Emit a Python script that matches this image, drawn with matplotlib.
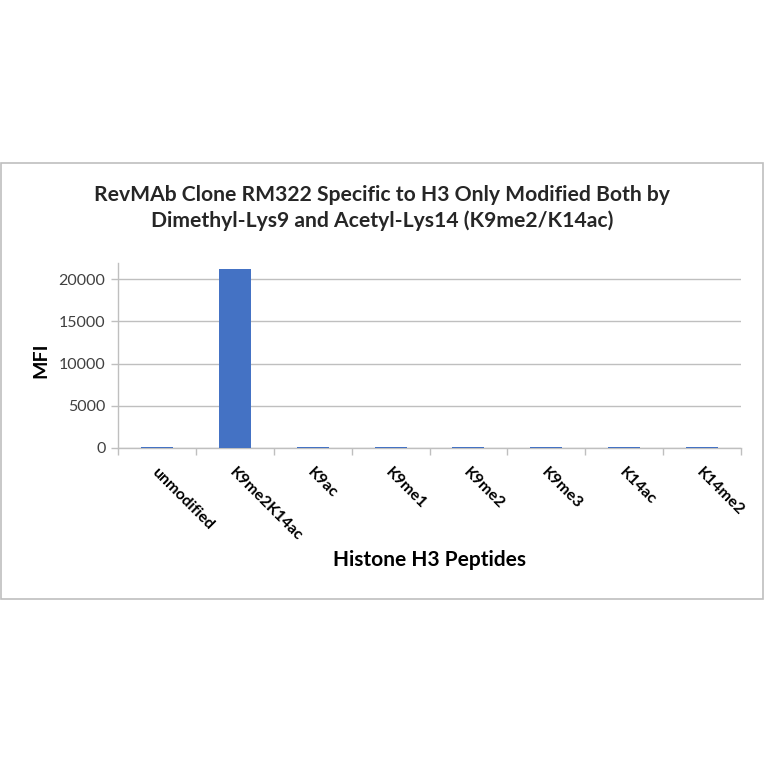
import matplotlib
matplotlib.use('Agg')
import matplotlib.pyplot as plt
from matplotlib.patches import Rectangle
import numpy as np

peptides = ['unmodified', 'K9me2K14ac', 'K9ac', 'K9me1', 'K9me2', 'K9me3', 'K14ac', 'K14me2']
mfi = [150, 21200, 150, 150, 150, 150, 150, 150]
yticks = [0, 5000, 10000, 15000, 20000]

title = ('RevMAb Clone RM322 Specific to H3 Only Modified Both by\n'
         'Dimethyl-Lys9 and Acetyl-Lys14 (K9me2/K14ac)')

plt.rcParams['font.family'] = ['Lato', 'DejaVu Sans']

W = 764.0
fig = plt.figure(figsize=(7.64, 7.64), dpi=100)

# chart frame
fig.patches.append(Rectangle((1 / W, 1 - 599 / W), 762 / W, 436 / W,
                             transform=fig.transFigure, fill=False,
                             edgecolor='#bfbfbf', lw=1.2))

ax = fig.add_axes([118 / W, 1 - 448 / W, (741 - 118) / W, (448 - 263) / W])
x = np.arange(len(peptides))
ax.bar(x, mfi, width=0.41, color='#4472c4', zorder=3)

ax.set_xlim(-0.5, len(peptides) - 0.5)
ax.set_ylim(0, 21900)
ax.set_yticks(yticks)
ax.set_yticklabels([str(v) for v in yticks], fontsize=11.5, color='#404040')
ax.yaxis.grid(True, color='#bfbfbf', lw=1)
ax.set_axisbelow(True)
ax.tick_params(axis='y', length=5, color='#bfbfbf', width=1, pad=4)

ax.set_xticks(x)
ax.set_xticklabels([])
ax.set_xticks(np.arange(len(peptides) + 1) - 0.5, minor=True)
ax.tick_params(axis='x', which='major', length=0)
ax.tick_params(axis='x', which='minor', length=5, color='#bfbfbf', width=1)

for s in ['top', 'right']:
    ax.spines[s].set_visible(False)
for s in ['left', 'bottom']:
    ax.spines[s].set_color('#bfbfbf')
    ax.spines[s].set_linewidth(1)

for i, lab in enumerate(peptides):
    ax.annotate(lab, xy=(i, 0), xycoords='data', xytext=(-3, -22),
                textcoords='offset pixels', rotation=-45, rotation_mode='anchor',
                ha='left', va='center', fontsize=11.5, color='#000000',
                fontweight='bold')

fig.text(382 / W, 1 - 208 / W, title, ha='center', va='center',
         fontsize=15.2, fontweight='bold', color='#262626', linespacing=1.3)
fig.text(41 / W, 1 - 360 / W, 'MFI', rotation=90, ha='center', va='center',
         fontsize=14, fontweight='bold', color='#000000')
fig.text(430 / W, 1 - 560 / W, 'Histone H3 Peptides', ha='center', va='center',
         fontsize=15, fontweight='bold', color='#000000')

fig.savefig('out.png', dpi=100)
